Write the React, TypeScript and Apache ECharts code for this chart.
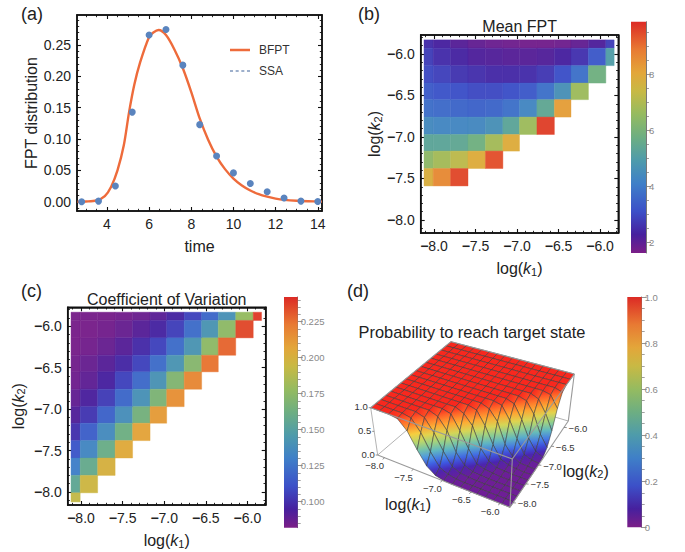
import React, { useEffect, useRef } from "react";
import * as echarts from "echarts";

const FONT = "Liberation Sans";

// ---------- panel (a) ----------
const curveT = [2.6, 3, 3.5, 3.9, 4.2, 4.5, 4.8, 5.05, 5.3, 5.57, 6, 6.2, 6.45, 6.8, 7.2, 7.6, 8, 8.4, 8.8, 9.2, 9.6, 10, 10.4, 10.8, 11.2, 11.6, 12, 12.4, 13, 14, 14.2];
const curveY = [0, 0.0003, 0.002, 0.009, 0.024, 0.05, 0.09, 0.143, 0.187, 0.222, 0.263, 0.27, 0.274, 0.266, 0.243, 0.213, 0.175, 0.133, 0.099, 0.072, 0.052, 0.037, 0.026, 0.018, 0.012, 0.008, 0.005, 0.003, 0.0015, 0.0003, 0.0002];
const ssaT = [2.8, 3.6, 4.4, 5.2, 6, 6.8, 7.6, 8.4, 9.2, 10, 10.8, 11.6, 12.4, 13.2, 14];
const ssaY = [0, 0.001, 0.025, 0.143, 0.266, 0.275, 0.218, 0.123, 0.073, 0.046, 0.029, 0.016, 0.006, 0.001, 0.0005];

// ---------- panels (b), (c) : cell edges shared by both log axes ----------
const cellEdges = [-8.12, -8.01, -7.8, -7.59, -7.38, -7.17, -6.97, -6.76, -6.55, -6.35, -6.14, -5.93, -5.83];
const meanFpt = [
  [2.5, 2.3, 2.1, 1.95, 1.85, 1.8, 1.75, 1.75, 1.8, 1.95, 2.2, 2.8],
  [2.8, 2.5, 2.35, 2.2, 2.15, 2.1, 2.1, 2.15, 2.3, 2.6, 3.3, 5.0],
  [3.0, 2.85, 2.65, 2.55, 2.45, 2.45, 2.5, 2.7, 3.1, 3.8, 5.8],
  [3.35, 3.2, 3.1, 3.0, 3.0, 3.1, 3.3, 3.8, 4.6, 6.7],
  [3.75, 3.65, 3.55, 3.5, 3.55, 3.8, 4.3, 5.4, 8.2],
  [4.4, 4.3, 4.3, 4.35, 4.6, 5.3, 6.7, 9.6],
  [5.3, 5.3, 5.4, 5.8, 6.8, 7.9],
  [6.4, 6.8, 7.2, 7.9, 9.4],
  [7.8, 8.6, 9.5],
];
const coefVar = [
  [0.083, 0.083, 0.083, 0.084, 0.086, 0.09, 0.096, 0.106, 0.12, 0.14, 0.178, 0.238],
  [0.083, 0.083, 0.084, 0.087, 0.091, 0.096, 0.105, 0.122, 0.142, 0.175, 0.235],
  [0.083, 0.084, 0.087, 0.091, 0.098, 0.106, 0.122, 0.142, 0.175, 0.228],
  [0.084, 0.087, 0.091, 0.097, 0.106, 0.122, 0.142, 0.172, 0.224],
  [0.085, 0.089, 0.095, 0.106, 0.121, 0.141, 0.17, 0.218],
  [0.088, 0.094, 0.104, 0.12, 0.14, 0.168, 0.215],
  [0.092, 0.102, 0.118, 0.138, 0.165, 0.211],
  [0.1, 0.117, 0.136, 0.162, 0.208],
  [0.113, 0.134, 0.16, 0.205],
  [0.13, 0.158, 0.2],
  [0.155, 0.196],
  [0.192],
];

// ---------- panel (d) : rows go from low k2 to high k2, columns from low k1 to high k1 ----------
const surfaceP = [
  [1, 1, 1, 0.97, 0.78, 0.45, 0.18, 0.05, 0.01, 0, 0, 0, 0, 0, 0, 0, 0],
  [1, 1, 1, 1, 0.96, 0.72, 0.38, 0.12, 0.04, 0.01, 0, 0, 0, 0, 0, 0, 0],
  [1, 1, 1, 1, 1, 0.94, 0.68, 0.36, 0.1, 0.03, 0.01, 0, 0, 0, 0, 0, 0],
  [1, 1, 1, 1, 1, 1, 0.93, 0.7, 0.3, 0.09, 0.02, 0.01, 0, 0, 0, 0, 0],
  [1, 1, 1, 1, 1, 1, 1, 0.95, 0.66, 0.34, 0.08, 0.03, 0.01, 0, 0, 0, 0],
  [1, 1, 1, 1, 1, 1, 1, 1, 0.92, 0.72, 0.3, 0.1, 0.02, 0.01, 0, 0, 0],
  [1, 1, 1, 1, 1, 1, 1, 1, 1, 0.95, 0.68, 0.34, 0.09, 0.03, 0.01, 0, 0],
  [1, 1, 1, 1, 1, 1, 1, 1, 1, 1, 0.93, 0.72, 0.3, 0.1, 0.02, 0.01, 0],
  [1, 1, 1, 1, 1, 1, 1, 1, 1, 1, 1, 0.96, 0.7, 0.36, 0.09, 0.03, 0.01],
  [1, 1, 1, 1, 1, 1, 1, 1, 1, 1, 1, 1, 0.94, 0.66, 0.32, 0.1, 0.03],
  [1, 1, 1, 1, 1, 1, 1, 1, 1, 1, 1, 1, 1, 0.95, 0.72, 0.35, 0.12],
  [1, 1, 1, 1, 1, 1, 1, 1, 1, 1, 1, 1, 1, 1, 0.93, 0.68, 0.36],
  [1, 1, 1, 1, 1, 1, 1, 1, 1, 1, 1, 1, 1, 1, 1, 0.96, 0.72],
  [1, 1, 1, 1, 1, 1, 1, 1, 1, 1, 1, 1, 1, 1, 1, 1, 0.95],
  [1, 1, 1, 1, 1, 1, 1, 1, 1, 1, 1, 1, 1, 1, 1, 1, 1],
  [1, 1, 1, 1, 1, 1, 1, 1, 1, 1, 1, 1, 1, 1, 1, 1, 1],
  [1, 1, 1, 1, 1, 1, 1, 1, 1, 1, 1, 1, 1, 1, 1, 1, 1],
];
const logTicks3d = [-8, -7.5, -7, -6.5, -6];
const zTicks3d = [0, 0.5, 1];

// ---------- tick lists ----------
const aXMajor = [4, 6, 8, 10, 12, 14];
const aXMinor = [3, 3.5, 4.5, 5, 5.5, 6.5, 7, 7.5, 8.5, 9, 9.5, 10.5, 11, 11.5, 12.5, 13, 13.5];
const aYMajor = [0, 0.05, 0.1, 0.15, 0.2, 0.25];
const aYMinor = [-0.01, 0.01, 0.02, 0.03, 0.04, 0.06, 0.07, 0.08, 0.09, 0.11, 0.12, 0.13, 0.14, 0.16, 0.17, 0.18, 0.19, 0.21, 0.22, 0.23, 0.24, 0.26, 0.27, 0.28, 0.29];
const logMajor = [-8, -7.5, -7, -6.5, -6];
const logMinor = [-8.1, -7.9, -7.8, -7.7, -7.6, -7.4, -7.3, -7.2, -7.1, -6.9, -6.8, -6.7, -6.6, -6.4, -6.3, -6.2, -6.1, -5.9, -5.8];
const barBMajor = [2, 4, 6, 8];
const barBMinor = [2.5, 3, 3.5, 4.5, 5, 5.5, 6.5, 7, 7.5, 8.5, 9, 9.5];
const barCMajor = [0.1, 0.125, 0.15, 0.175, 0.2, 0.225];
const barCMinor = [0.085, 0.09, 0.095, 0.105, 0.11, 0.115, 0.12, 0.13, 0.135, 0.14, 0.145, 0.155, 0.16, 0.165, 0.17, 0.18, 0.185, 0.19, 0.195, 0.205, 0.21, 0.215, 0.22, 0.23, 0.235, 0.24];
const barDMajor = [0, 0.2, 0.4, 0.6, 0.8, 1];
const barDMinor = [0.05, 0.1, 0.15, 0.25, 0.3, 0.35, 0.45, 0.5, 0.55, 0.65, 0.7, 0.75, 0.85, 0.9, 0.95];

// ---------- colours ----------
const PALETTE: [number, string][] = [
  [0, "#7B1E87"], [0.08, "#47209E"], [0.18, "#3C50C8"], [0.3, "#3F7FC8"], [0.4, "#4E9BAB"],
  [0.5, "#6DAE82"], [0.6, "#95BB60"], [0.7, "#C8B944"], [0.78, "#E3A63A"], [0.88, "#E87A33"], [1, "#DC2A25"],
];
const SURFACE: [number, string][] = [
  [0, "#6E1E96"], [0.1, "#4A25B0"], [0.2, "#3D55E0"], [0.3, "#4A90E8"], [0.4, "#60B8C0"],
  [0.5, "#8CD090"], [0.6, "#C8D860"], [0.7, "#F5D040"], [0.8, "#FFA030"], [0.9, "#FF6A2A"], [1, "#F8281E"],
];
function rgb(h: string) {
  return [1, 3, 5].map((i) => parseInt(h.slice(i, i + 2), 16));
}
function colorAt(stops: [number, string][], t: number) {
  const x = Math.max(0, Math.min(1, t));
  for (let i = 1; i < stops.length; i++) {
    if (x <= stops[i][0]) {
      const f = (x - stops[i - 1][0]) / (stops[i][0] - stops[i - 1][0]);
      const a = rgb(stops[i - 1][1]);
      const b = rgb(stops[i][1]);
      return `rgb(${a.map((c, k) => Math.round(c + (b[k] - c) * f)).join(",")})`;
    }
  }
  return stops[stops.length - 1][1];
}

// ---------- axes helpers ----------
const grids: any[] = [];
const xAxes: any[] = [];
const yAxes: any[] = [];
const minusFmt = (v: number) => `{m|\u2212}${Math.abs(v).toFixed(1)}`;
const minusRich = { m: { fontFamily: FONT, fontSize: 14, fontWeight: "bold", color: "#222" } };
const LINE = "#111";
const logName = (n: number) => `log({i|k}{s|${n}})`;
const nameStyle = {
  fontFamily: FONT, fontSize: 16, color: "#222",
  rich: {
    i: { fontFamily: FONT, fontStyle: "italic", fontSize: 16, color: "#222" },
    s: { fontFamily: FONT, fontSize: 11, color: "#222", verticalAlign: "bottom", padding: [6, 0, 0, 0] },
  },
};
function baseAxis(gridIndex: number, position: string, min: number, max: number) {
  return {
    type: "value", gridIndex, position, min, max, scale: true,
    splitLine: { show: false },
    axisLine: { show: false, onZero: false, lineStyle: { color: LINE, width: 1.5 } },
    axisTick: { show: false },
    axisLabel: { show: false },
  };
}
function addFrame(r: number[], xr: number[], yr: number[], xMaj: number[], xMin: number[], yMaj: number[], yMin: number[],
  fx: any, fy: any, xName: string, yName: string, xGap: number, yGap: number) {
  const gridIndex = grids.length;
  grids.push({ left: r[0], top: r[2], width: r[1] - r[0], height: r[3] - r[2], show: true, borderColor: LINE, borderWidth: 1.5, backgroundColor: "transparent" });
  const xIndex = xAxes.length;
  const yIndex = yAxes.length;
  const major = (vals: number[]) => ({ show: true, inside: true, length: 4, customValues: vals, lineStyle: { color: LINE, width: 1.1 } });
  const minor = (vals: number[]) => ({ show: true, inside: true, length: 2.2, customValues: vals, lineStyle: { color: LINE, width: 0.9 } });
  xAxes.push({
    ...baseAxis(gridIndex, "bottom", xr[0], xr[1]),
    axisLine: { show: true, onZero: false, lineStyle: { color: LINE, width: 1.5 } },
    axisTick: major(xMaj),
    axisLabel: { show: true, customValues: xMaj, formatter: fx, fontFamily: FONT, fontSize: 14, color: "#222", margin: 6, rich: minusRich },
    name: xName, nameLocation: "middle", nameGap: xGap, nameTextStyle: nameStyle,
  });
  xAxes.push({ ...baseAxis(gridIndex, "bottom", xr[0], xr[1]), axisTick: minor(xMin) });
  xAxes.push({ ...baseAxis(gridIndex, "top", xr[0], xr[1]), axisLine: { show: true, onZero: false, lineStyle: { color: LINE, width: 1.5 } }, axisTick: major(xMaj) });
  xAxes.push({ ...baseAxis(gridIndex, "top", xr[0], xr[1]), axisTick: minor(xMin) });
  yAxes.push({
    ...baseAxis(gridIndex, "left", yr[0], yr[1]),
    axisLine: { show: true, onZero: false, lineStyle: { color: LINE, width: 1.5 } },
    axisTick: major(yMaj),
    axisLabel: { show: true, customValues: yMaj, formatter: fy, fontFamily: FONT, fontSize: 14, color: "#222", margin: 6, rich: minusRich },
    name: yName, nameLocation: "middle", nameGap: yGap, nameTextStyle: nameStyle,
  });
  yAxes.push({ ...baseAxis(gridIndex, "left", yr[0], yr[1]), axisTick: minor(yMin) });
  yAxes.push({ ...baseAxis(gridIndex, "right", yr[0], yr[1]), axisLine: { show: true, onZero: false, lineStyle: { color: LINE, width: 1.5 } }, axisTick: major(yMaj) });
  yAxes.push({ ...baseAxis(gridIndex, "right", yr[0], yr[1]), axisTick: minor(yMin) });
  return { xAxisIndex: xIndex, yAxisIndex: yIndex };
}
function addColorBar(r: number[], range: number[], maj: number[], min: number[], fmt: any) {
  const gridIndex = grids.length;
  grids.push({ left: r[0], top: r[2], width: r[1] - r[0], height: r[3] - r[2] });
  const xAxisIndex = xAxes.length;
  const yAxisIndex = yAxes.length;
  xAxes.push({ ...baseAxis(gridIndex, "bottom", 0, 1), show: false });
  yAxes.push({
    ...baseAxis(gridIndex, "right", range[0], range[1]),
    axisLine: { show: true, onZero: false, lineStyle: { color: "#555", width: 0.8 } },
    axisTick: { show: true, length: 5, customValues: maj, lineStyle: { color: "#777", width: 0.8 } },
    axisLabel: { show: true, customValues: maj, formatter: fmt, fontFamily: FONT, fontSize: 9.5, color: "#888", margin: 3 },
  });
  yAxes.push({
    ...baseAxis(gridIndex, "right", range[0], range[1]),
    axisTick: { show: true, length: 3, customValues: min, lineStyle: { color: "#777", width: 0.7 } },
  });
  return {
    type: "custom", xAxisIndex, yAxisIndex, coordinateSystem: "cartesian2d", silent: true,
    data: [[0, 1, range[0], range[1]]],
    encode: { x: [0, 1], y: [2, 3] },
    renderItem: (_: any, api: any) => {
      const a = api.coord([api.value(0), api.value(2)]);
      const b = api.coord([api.value(1), api.value(3)]);
      return {
        type: "rect",
        shape: { x: a[0], y: b[1], width: b[0] - a[0], height: a[1] - b[1] },
        style: { fill: new echarts.graphic.LinearGradient(0, 1, 0, 0, PALETTE.map(([offset, color]) => ({ offset, color }))) },
      };
    },
  };
}
function cellRows(rows: number[][]) {
  const out: number[][] = [];
  const n = cellEdges.length - 1;
  rows.forEach((row, r) => {
    row.forEach((v, c) => {
      out.push([cellEdges[c], cellEdges[c + 1], cellEdges[n - r - 1], cellEdges[n - r], v]);
    });
  });
  return out;
}
function cellSeries(name: string, rows: number[][], range: number[], idx: any) {
  return {
    type: "custom", name, ...idx, coordinateSystem: "cartesian2d", silent: true,
    data: cellRows(rows),
    encode: { x: [0, 1], y: [2, 3] },
    renderItem: (_: any, api: any) => {
      const a = api.coord([api.value(0), api.value(2)]);
      const b = api.coord([api.value(1), api.value(3)]);
      const fill = colorAt(PALETTE, (api.value(4) - range[0]) / (range[1] - range[0]));
      return {
        type: "rect",
        shape: { x: a[0], y: b[1], width: b[0] - a[0], height: a[1] - b[1] },
        style: { fill, stroke: fill, lineWidth: 0.4, opacity: 0.97 },
      };
    },
  };
}

// ---------- 3-D projection of panel (d) ----------
const LOG_LO = -8.12;
const LOG_HI = -5.83;
const BASE = { a: [377.7, 455], b: [510, 507.3], c: [568.3, 421], d: [456, 388] };
const TOP = { a: [370.7, 407.7], b: [512.3, 459], c: [574.3, 374], d: [451, 341.7] };
function bilinear(q: any, u: number, v: number) {
  return [0, 1].map((k) => (1 - v) * ((1 - u) * q.a[k] + u * q.b[k]) + v * ((1 - u) * q.d[k] + u * q.c[k]));
}
function project(u: number, v: number, p: number) {
  const b = bilinear(BASE, u, v);
  const t = bilinear(TOP, u, v);
  return [b[0] + (t[0] - b[0]) * p, b[1] + (t[1] - b[1]) * p];
}
const toU = (k: number) => (k - LOG_LO) / (LOG_HI - LOG_LO);

function buildOption() {
  const frameA = addFrame([77, 322, 15, 211], [2.58, 14.2], [-0.0148, 0.298], aXMajor, aXMinor, aYMajor, aYMinor,
    (v: number) => String(v), (v: number) => v.toFixed(2), "time", "FPT distribution", 27, 38);
  const frameB = addFrame([420.7, 618.3, 35, 233], [-8.16, -5.78], [-8.157, -5.771], logMajor, logMinor, logMajor, logMinor,
    minusFmt, minusFmt, logName(1), logName(2), 27, 36);
  const frameC = addFrame([67.7, 265.7, 307.3, 505], [-8.16, -5.78], [-8.157, -5.771], logMajor, logMinor, logMajor, logMinor,
    minusFmt, minusFmt, logName(1), logName(2), 27, 41);

  const rangeB = [1.63, 9.87];
  const rangeC = [0.0819, 0.2421];
  const rangeD = [0, 1];
  const barB = addColorBar([631, 646, 21.7, 253], rangeB, barBMajor, barBMinor, (v: number) => String(v));
  const barC = addColorBar([284, 297.7, 297, 527.7], rangeC, barCMajor, barCMinor, (v: number) => v.toFixed(3));
  const barD = addColorBar([627.3, 641.7, 297, 527.3], rangeD, barDMajor, barDMinor, (v: number) => (v === 0 ? "0" : v.toFixed(1)));

  // hidden pixel plane for the projected surface
  const g3 = grids.length;
  grids.push({ left: 0, top: 0, width: 685, height: 552 });
  const x3 = xAxes.length;
  const y3 = yAxes.length;
  xAxes.push({ ...baseAxis(g3, "bottom", 0, 685), show: false });
  yAxes.push({ ...baseAxis(g3, "left", 0, 552), inverse: true, show: false });
  const idx3 = { xAxisIndex: x3, yAxisIndex: y3, coordinateSystem: "cartesian2d", silent: true, clip: false };

  const nRows = surfaceP.length - 1;
  const nCols = surfaceP[0].length - 1;
  const quads: number[][] = [];
  for (let j = nRows - 1; j >= 0; j--) for (let i = 0; i < nCols; i++) quads.push([i, j]);

  const boxEdge = (list: string[], color: string, width: number) => ({
    type: "custom", ...idx3,
    data: list.map((_, i) => [i, 0]),
    renderItem: (params: any, api: any) => {
      const e = list[params.dataIndex];
      const q = (c: string) => (c === c.toUpperCase() ? (TOP as any)[c.toLowerCase()] : (BASE as any)[c]);
      const p0 = api.coord(q(e[0]));
      const p1 = api.coord(q(e[1]));
      return { type: "line", shape: { x1: p0[0], y1: p0[1], x2: p1[0], y2: p1[1] }, style: { stroke: color, lineWidth: width } };
    },
  });

  const tick3d = (kind: string, value: number, api: any) => {
    let base: number[], ox: number, oy: number, text: string;
    if (kind === "k1") {
      base = project(toU(value), 0, 0); ox = -10; oy = 8; text = `\u2212${Math.abs(value).toFixed(1)}`;
    } else if (kind === "k2") {
      base = project(1, toU(value), 0); ox = 14; oy = 1; text = `\u2212${Math.abs(value).toFixed(1)}`;
    } else {
      base = project(0, 0, value); ox = -3; oy = -1; text = value.toFixed(1);
    }
    const p = api.coord(base);
    return {
      type: "group",
      children: [
        { type: "line", shape: { x1: p[0], y1: p[1], x2: p[0] + (kind === "z" ? -2 : ox * 0.2), y2: p[1] + (kind === "z" ? 0 : oy * 0.2) }, style: { stroke: "#777", lineWidth: 0.8 } },
        { type: "text", style: { x: p[0] + ox, y: p[1] + oy, text, fontFamily: FONT, fontSize: 9.5, fill: "#333", textAlign: kind === "z" ? "right" : "center", textVerticalAlign: "middle" } },
      ],
    };
  };
  const tickData: [string, number][] = [
    ...logTicks3d.map((v) => ["k1", v] as [string, number]),
    ...logTicks3d.map((v) => ["k2", v] as [string, number]),
    ...zTicks3d.map((v) => ["z", v] as [string, number]),
  ];

  const series: any[] = [
    {
      type: "line", name: "BFPT", ...frameA, data: curveT.map((t, i) => [t, curveY[i]]),
      showSymbol: false, smooth: 0.3, color: "#EE6B3B", lineStyle: { color: "#EE6B3B", width: 2.4 }, z: 3,
    },
    {
      type: "scatter", name: "SSA", ...frameA, data: ssaT.map((t, i) => [t, ssaY[i]]),
      symbolSize: 7, itemStyle: { color: "#5A84BE", opacity: 1 }, z: 4,
    },
    cellSeries("Mean FPT", meanFpt, rangeB, frameB),
    cellSeries("Coefficient of Variation", coefVar, rangeC, frameC),
    barB, barC, barD,
    boxEdge(["ad", "dc", "aA", "dD"], "#aaa", 0.9),
    {
      type: "custom", name: "Probability to reach target state", ...idx3,
      data: quads,
      renderItem: (params: any, api: any) => {
        const [i, j] = quads[params.dataIndex];
        const cs = [[i, j], [i + 1, j], [i + 1, j + 1], [i, j + 1]];
        const pts = cs.map(([a, b]) => api.coord(project(a / nCols, b / nRows, surfaceP[b][a])));
        const ps = cs.map(([a, b]) => surfaceP[b][a]);
        const lo = Math.min(...ps);
        const hi = Math.max(...ps);
        let fill: any = colorAt(SURFACE, lo);
        if (hi > lo) {
          const a = pts[ps.indexOf(lo)];
          const b = pts[ps.indexOf(hi)];
          const stops = [0, 0.25, 0.5, 0.75, 1].map((offset) => ({ offset, color: colorAt(SURFACE, lo + (hi - lo) * offset) }));
          fill = new echarts.graphic.LinearGradient(a[0], a[1], b[0], b[1], stops, true);
        }
        return { type: "polygon", shape: { points: pts }, style: { fill, stroke: "#3a3a3a", lineWidth: 0.7, strokeOpacity: 0.8 } };
      },
    },
    boxEdge(["ab", "bc", "AB", "BC", "AD", "DC", "bB", "cC"], "#999", 1.1),
    {
      type: "custom", ...idx3, data: tickData.map((_, i) => [i, 0]),
      renderItem: (params: any, api: any) => tick3d(tickData[params.dataIndex][0], tickData[params.dataIndex][1], api),
    },
  ];

  const title = (text: string, left: number, top: number, fontSize: number, textAlign = "center") => ({
    text, left, top, textAlign, padding: 0,
    textStyle: { fontFamily: FONT, fontWeight: "normal", fontSize, color: "#222" },
  });
  const richLabel = (n: number, x: number, y: number) => ({
    type: "text", x, y,
    style: {
      text: logName(n), fontFamily: FONT, fontSize: 16, fill: "#222", align: "center", verticalAlign: "middle",
      rich: {
        i: { fontFamily: FONT, fontStyle: "italic", fontSize: 16, fill: "#222" },
        s: { fontFamily: FONT, fontSize: 11, fill: "#222", verticalAlign: "bottom", padding: [6, 0, 0, 0] },
      },
    },
  });

  return {
    animation: false,
    backgroundColor: "#fff",
    grid: grids,
    xAxis: xAxes,
    yAxis: yAxes,
    title: [
      title("(a)", 21, 5, 18, "left"),
      title("(b)", 358, 5, 18, "left"),
      title("(c)", 21, 282, 18, "left"),
      title("(d)", 347, 282, 18, "left"),
      title("Mean FPT", 519.7, 18, 16),
      title("Coefficient of Variation", 166.7, 291, 16),
      title("Probability to reach target state", 472, 324, 16.4),
    ],
    legend: {
      left: 230, top: 44, orient: "vertical", itemGap: 9, itemWidth: 20, itemHeight: 2.5, padding: 0,
      textStyle: { fontFamily: FONT, fontSize: 12, color: "#333", padding: [0, 0, 0, 4] },
      data: [
        { name: "BFPT", icon: "rect" },
        { name: "SSA", icon: "path://M0 0h3v1h-3zM5.6 0h3v1h-3zM11.2 0h3v1h-3zM16.8 0h3v1h-3z", itemStyle: { color: "#3F6299" } },
      ],
      selectedMode: false,
    },
    graphic: [richLabel(1, 408, 504), richLabel(2, 585.7, 471)],
    series,
  };
}

export default function App() {
  const ref = useRef<HTMLDivElement>(null);
  useEffect(() => {
    grids.length = 0;
    xAxes.length = 0;
    yAxes.length = 0;
    const chart = echarts.init(ref.current!, undefined, { renderer: "svg" });
    chart.setOption(buildOption() as any);
    return () => chart.dispose();
  }, []);
  return <div ref={ref} style={{ position: "fixed", left: 0, top: 0, width: 685, height: 552 }} />;
}
